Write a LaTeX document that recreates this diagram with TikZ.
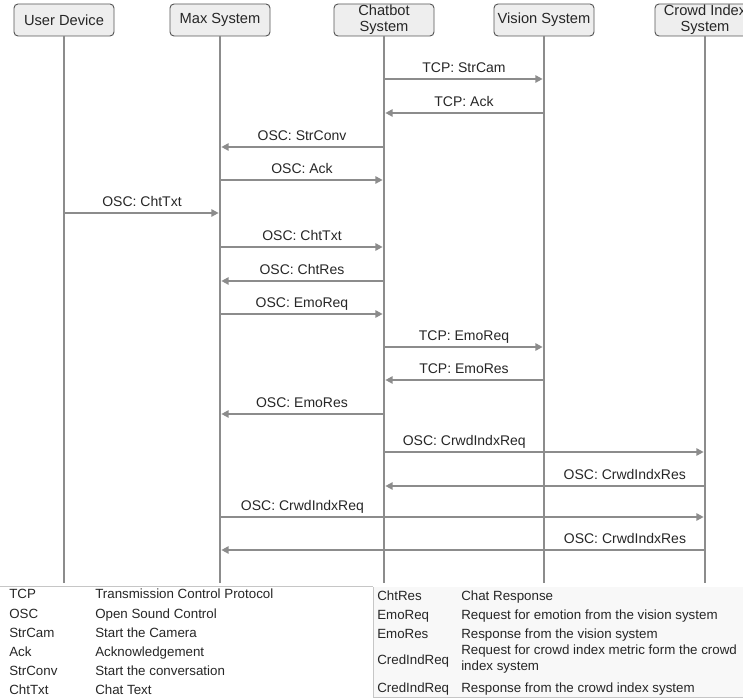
\documentclass[tikz,border=0pt]{standalone}
\usepackage{fontspec}
\setmainfont{Liberation Sans}
\usetikzlibrary{arrows.meta}
\definecolor{linegray}{HTML}{8C8C8C}
\definecolor{boxfill}{HTML}{EEEEEE}
\definecolor{boxline}{HTML}{555555}
\definecolor{txtgray}{HTML}{262626}
\definecolor{legfill}{HTML}{F8F8F8}
\begin{document}
\begin{tikzpicture}[
  x=0.75pt, y=-0.75pt,
  >={Triangle[length=5.5pt,width=5.5pt]},
  actor/.style={draw=boxline, fill=boxfill, line width=0.7pt, rounded corners=3pt, minimum width=75pt, minimum height=24pt, inner sep=0pt, align=center, text=txtgray, font={\fontsize{11}{12}\selectfont}},
  lifeline/.style={draw=linegray, line width=2pt},
  msg/.style={->, draw=linegray, line width=1.3pt, shorten >=1pt},
  lbl/.style={anchor=base, yshift=4.5pt, inner sep=0pt, text=txtgray, font={\fontsize{10.5}{12}\selectfont}},
  legabbr/.style={anchor=base west, inner sep=0pt, text=txtgray, font={\fontsize{10}{11.3}\selectfont}},
  legtext/.style={anchor=base west, inner sep=0pt, align=left, text=txtgray, font={\fontsize{10}{11.3}\selectfont}}
]
  \useasboundingbox (0,0) rectangle (743,698);
  \clip (0,0) rectangle (743,698);
  \node[actor] (ud) at (64,20) {User Device};
  \node[actor] (ms) at (220,20) {Max System};
  \node[actor] (cb) at (384,20) {Chatbot\\System};
  \node[actor] (vs) at (544,20) {Vision System};
  \node[actor] (ci) at (705,20) {Crowd Index\\System};
  \coordinate (ud-end) at (64,583);
  \coordinate (ms-end) at (220,583);
  \coordinate (cb-end) at (384,583);
  \coordinate (vs-end) at (544,583);
  \coordinate (ci-end) at (705,583);
  \draw[lifeline] (ud) -- (ud-end);
  \draw[lifeline] (ms) -- (ms-end);
  \draw[lifeline] (cb) -- (cb-end);
  \draw[lifeline] (vs) -- (vs-end);
  \draw[lifeline] (ci) -- (ci-end);
  \draw[msg] (cb |- 0,79) -- (vs |- 0,79) node[lbl, midway] {TCP: StrCam};
  \draw[msg] (vs |- 0,113) -- (cb |- 0,113) node[lbl, midway] {TCP: Ack};
  \draw[msg] (cb |- 0,147) -- (ms |- 0,147) node[lbl, midway] {OSC: StrConv};
  \draw[msg] (ms |- 0,180) -- (cb |- 0,180) node[lbl, midway] {OSC: Ack};
  \draw[msg] (ud |- 0,213) -- (ms |- 0,213) node[lbl, midway] {OSC: ChtTxt};
  \draw[msg] (ms |- 0,247) -- (cb |- 0,247) node[lbl, midway] {OSC: ChtTxt};
  \draw[msg] (cb |- 0,281) -- (ms |- 0,281) node[lbl, midway] {OSC: ChtRes};
  \draw[msg] (ms |- 0,314) -- (cb |- 0,314) node[lbl, midway] {OSC: EmoReq};
  \draw[msg] (cb |- 0,347) -- (vs |- 0,347) node[lbl, midway] {TCP: EmoReq};
  \draw[msg] (vs |- 0,380) -- (cb |- 0,380) node[lbl, midway] {TCP: EmoRes};
  \draw[msg] (cb |- 0,414) -- (ms |- 0,414) node[lbl, midway] {OSC: EmoRes};
  \draw[msg] (cb |- 0,452) -- (ci |- 0,452) node[lbl, pos=0.25] {OSC: CrwdIndxReq};
  \draw[msg] (ci |- 0,486) -- (cb |- 0,486) node[lbl, pos=0.25] {OSC: CrwdIndxRes};
  \draw[msg] (ms |- 0,517) -- (ci |- 0,517) node[lbl, pos=0.17] {OSC: CrwdIndxReq};
  \draw[msg] (ci |- 0,550) -- (ms |- 0,550) node[lbl, pos=0.165] {OSC: CrwdIndxRes};
  \draw[draw=gray!45, line width=0.5pt] (0,586) -- (373,586);
  \fill[legfill] (373,587) rectangle (743,697);
  \draw[draw=gray!45, line width=0.5pt] (373,587) -- (373,697) -- (743,697);
  \node[legabbr] (a1) at (9,599) {TCP};
  \node[legtext] (d1) at (95,599) {Transmission Control Protocol};
  \node[legabbr] (a2) at (9,618) {OSC};
  \node[legtext] (d2) at (95,618) {Open Sound Control};
  \node[legabbr] (a3) at (9,637) {StrCam};
  \node[legtext] (d3) at (95,637) {Start the Camera};
  \node[legabbr] (a4) at (9,656) {Ack};
  \node[legtext] (d4) at (95,656) {Acknowledgement};
  \node[legabbr] (a5) at (9,675) {StrConv};
  \node[legtext] (d5) at (95,675) {Start the conversation};
  \node[legabbr] (a6) at (9,694) {ChtTxt};
  \node[legtext] (d6) at (95,694) {Chat Text};
  \node[legabbr] (a7) at (377,600) {ChtRes};
  \node[legtext] (d7) at (461,600) {Chat Response};
  \node[legabbr] (a8) at (377,619) {EmoReq};
  \node[legtext] (d8) at (461,619) {Request for emotion from the vision system};
  \node[legabbr] (a9) at (377,638) {EmoRes};
  \node[legtext] (d9) at (461,638) {Response from the vision system};
  \node[legabbr] (a10) at (377,664) {CredIndReq};
  \node[legtext] (d10) at (461,670) {Request for crowd index metric form the crowd\\index system};
  \node[legabbr] (a11) at (377,692) {CredIndReq};
  \node[legtext] (d11) at (461,692) {Response from the crowd index system};
\end{tikzpicture}
\end{document}
